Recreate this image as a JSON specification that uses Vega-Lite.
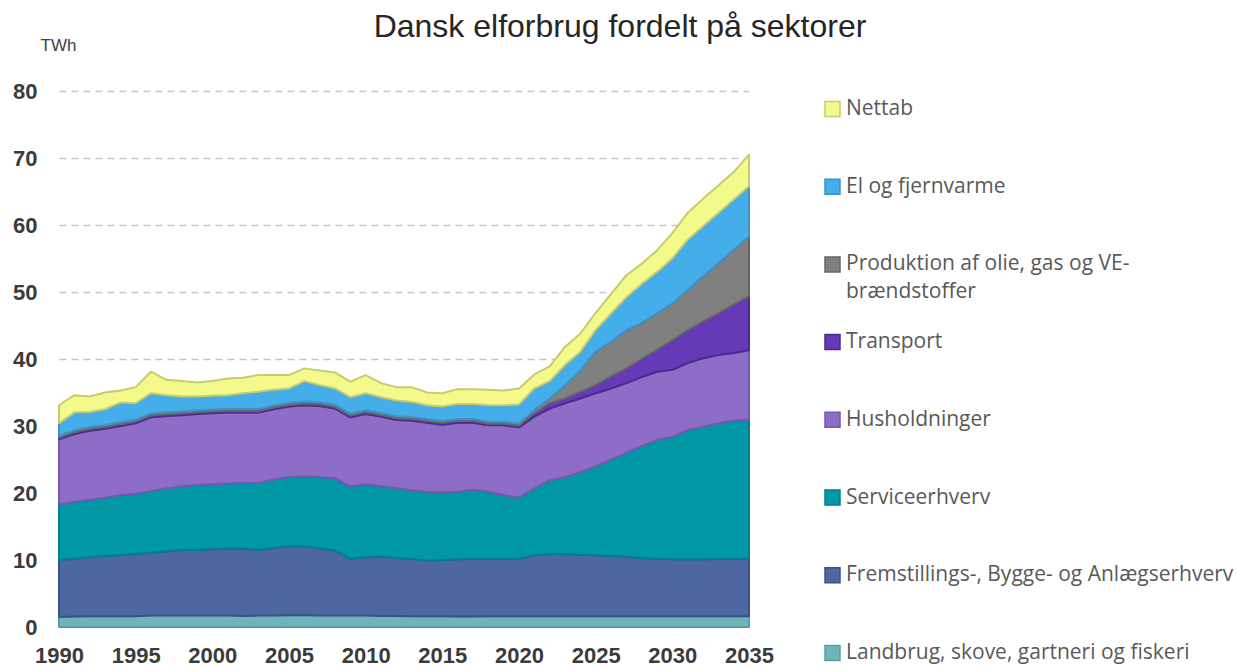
{
  "$schema": "https://vega.github.io/schema/vega-lite/v6.json",
  "width": 690,
  "height": 536,
  "autosize": {"type": "none"},
  "padding": {"left": 59, "top": 91, "right": 487, "bottom": 39},
  "background": "white",
  "title": {
    "text": "Dansk elforbrug fordelt på sektorer",
    "font": "Liberation Sans",
    "fontSize": 32,
    "fontWeight": "normal",
    "color": "#262626",
    "anchor": "middle",
    "frame": "group",
    "dx": 216,
    "dy": 34,
    "offset": 1,
    "baseline": "alphabetic"
  },
  "datasets": {
    "orden": [
      {"sektor": "Landbrug, skove, gartneri og fiskeri", "orden": 1},
      {"sektor": "Fremstillings-, Bygge- og Anlægserhverv", "orden": 2},
      {"sektor": "Serviceerhverv", "orden": 3},
      {"sektor": "Husholdninger", "orden": 4},
      {"sektor": "Transport", "orden": 5},
      {"sektor": "Produktion af olie, gas og VE-brændstoffer", "orden": 6},
      {"sektor": "El og fjernvarme", "orden": 7},
      {"sektor": "Nettab", "orden": 8}
    ]
  },
  "data": {
    "values": [
      {"year": 1990, "Landbrug, skove, gartneri og fiskeri": 1.5, "Fremstillings-, Bygge- og Anlægserhverv": 8.5, "Serviceerhverv": 8.3, "Husholdninger": 9.7, "Transport": 0.25, "Produktion af olie, gas og VE-brændstoffer": 0.3, "El og fjernvarme": 1.85, "Nettab": 2.7},
      {"year": 1991, "Landbrug, skove, gartneri og fiskeri": 1.55, "Fremstillings-, Bygge- og Anlægserhverv": 8.65, "Serviceerhverv": 8.5, "Husholdninger": 10.1, "Transport": 0.25, "Produktion af olie, gas og VE-brændstoffer": 0.3, "El og fjernvarme": 2.65, "Nettab": 2.6},
      {"year": 1992, "Landbrug, skove, gartneri og fiskeri": 1.6, "Fremstillings-, Bygge- og Anlægserhverv": 8.8, "Serviceerhverv": 8.6, "Husholdninger": 10.3, "Transport": 0.25, "Produktion af olie, gas og VE-brændstoffer": 0.3, "El og fjernvarme": 2.25, "Nettab": 2.3},
      {"year": 1993, "Landbrug, skove, gartneri og fiskeri": 1.6, "Fremstillings-, Bygge- og Anlægserhverv": 9.0, "Serviceerhverv": 8.7, "Husholdninger": 10.3, "Transport": 0.25, "Produktion af olie, gas og VE-brændstoffer": 0.3, "El og fjernvarme": 2.35, "Nettab": 2.5},
      {"year": 1994, "Landbrug, skove, gartneri og fiskeri": 1.6, "Fremstillings-, Bygge- og Anlægserhverv": 9.1, "Serviceerhverv": 9.0, "Husholdninger": 10.3, "Transport": 0.25, "Produktion af olie, gas og VE-brændstoffer": 0.3, "El og fjernvarme": 2.95, "Nettab": 1.8},
      {"year": 1995, "Landbrug, skove, gartneri og fiskeri": 1.6, "Fremstillings-, Bygge- og Anlægserhverv": 9.3, "Serviceerhverv": 9.0, "Husholdninger": 10.5, "Transport": 0.25, "Produktion af olie, gas og VE-brændstoffer": 0.3, "El og fjernvarme": 2.45, "Nettab": 2.4},
      {"year": 1996, "Landbrug, skove, gartneri og fiskeri": 1.7, "Fremstillings-, Bygge- og Anlægserhverv": 9.4, "Serviceerhverv": 9.2, "Husholdninger": 11.0, "Transport": 0.25, "Produktion af olie, gas og VE-brændstoffer": 0.3, "El og fjernvarme": 3.05, "Nettab": 3.2},
      {"year": 1997, "Landbrug, skove, gartneri og fiskeri": 1.7, "Fremstillings-, Bygge- og Anlægserhverv": 9.6, "Serviceerhverv": 9.4, "Husholdninger": 10.8, "Transport": 0.25, "Produktion af olie, gas og VE-brændstoffer": 0.3, "El og fjernvarme": 2.55, "Nettab": 2.3},
      {"year": 1998, "Landbrug, skove, gartneri og fiskeri": 1.7, "Fremstillings-, Bygge- og Anlægserhverv": 9.8, "Serviceerhverv": 9.5, "Husholdninger": 10.6, "Transport": 0.25, "Produktion af olie, gas og VE-brændstoffer": 0.3, "El og fjernvarme": 2.25, "Nettab": 2.3},
      {"year": 1999, "Landbrug, skove, gartneri og fiskeri": 1.7, "Fremstillings-, Bygge- og Anlægserhverv": 9.8, "Serviceerhverv": 9.7, "Husholdninger": 10.6, "Transport": 0.25, "Produktion af olie, gas og VE-brændstoffer": 0.3, "El og fjernvarme": 2.05, "Nettab": 2.1},
      {"year": 2000, "Landbrug, skove, gartneri og fiskeri": 1.7, "Fremstillings-, Bygge- og Anlægserhverv": 9.9, "Serviceerhverv": 9.7, "Husholdninger": 10.6, "Transport": 0.25, "Produktion af olie, gas og VE-brændstoffer": 0.3, "El og fjernvarme": 2.05, "Nettab": 2.2},
      {"year": 2001, "Landbrug, skove, gartneri og fiskeri": 1.7, "Fremstillings-, Bygge- og Anlægserhverv": 10.0, "Serviceerhverv": 9.7, "Husholdninger": 10.6, "Transport": 0.25, "Produktion af olie, gas og VE-brændstoffer": 0.3, "El og fjernvarme": 2.05, "Nettab": 2.5},
      {"year": 2002, "Landbrug, skove, gartneri og fiskeri": 1.65, "Fremstillings-, Bygge- og Anlægserhverv": 10.05, "Serviceerhverv": 9.8, "Husholdninger": 10.5, "Transport": 0.25, "Produktion af olie, gas og VE-brændstoffer": 0.3, "El og fjernvarme": 2.35, "Nettab": 2.3},
      {"year": 2003, "Landbrug, skove, gartneri og fiskeri": 1.7, "Fremstillings-, Bygge- og Anlægserhverv": 9.8, "Serviceerhverv": 10.0, "Husholdninger": 10.5, "Transport": 0.25, "Produktion af olie, gas og VE-brændstoffer": 0.3, "El og fjernvarme": 2.55, "Nettab": 2.5},
      {"year": 2004, "Landbrug, skove, gartneri og fiskeri": 1.7, "Fremstillings-, Bygge- og Anlægserhverv": 10.1, "Serviceerhverv": 10.2, "Husholdninger": 10.5, "Transport": 0.25, "Produktion af olie, gas og VE-brændstoffer": 0.3, "El og fjernvarme": 2.35, "Nettab": 2.2},
      {"year": 2005, "Landbrug, skove, gartneri og fiskeri": 1.75, "Fremstillings-, Bygge- og Anlægserhverv": 10.35, "Serviceerhverv": 10.3, "Husholdninger": 10.5, "Transport": 0.25, "Produktion af olie, gas og VE-brændstoffer": 0.3, "El og fjernvarme": 2.15, "Nettab": 2.0},
      {"year": 2006, "Landbrug, skove, gartneri og fiskeri": 1.75, "Fremstillings-, Bygge- og Anlægserhverv": 10.25, "Serviceerhverv": 10.5, "Husholdninger": 10.6, "Transport": 0.25, "Produktion af olie, gas og VE-brændstoffer": 0.3, "El og fjernvarme": 3.05, "Nettab": 1.9},
      {"year": 2007, "Landbrug, skove, gartneri og fiskeri": 1.7, "Fremstillings-, Bygge- og Anlægserhverv": 10.0, "Serviceerhverv": 10.7, "Husholdninger": 10.6, "Transport": 0.25, "Produktion af olie, gas og VE-brændstoffer": 0.3, "El og fjernvarme": 2.55, "Nettab": 2.2},
      {"year": 2008, "Landbrug, skove, gartneri og fiskeri": 1.7, "Fremstillings-, Bygge- og Anlægserhverv": 9.7, "Serviceerhverv": 10.8, "Husholdninger": 10.4, "Transport": 0.25, "Produktion af olie, gas og VE-brændstoffer": 0.3, "El og fjernvarme": 2.45, "Nettab": 2.4},
      {"year": 2009, "Landbrug, skove, gartneri og fiskeri": 1.7, "Fremstillings-, Bygge- og Anlægserhverv": 8.5, "Serviceerhverv": 10.8, "Husholdninger": 10.3, "Transport": 0.25, "Produktion af olie, gas og VE-brændstoffer": 0.3, "El og fjernvarme": 2.45, "Nettab": 2.3},
      {"year": 2010, "Landbrug, skove, gartneri og fiskeri": 1.7, "Fremstillings-, Bygge- og Anlægserhverv": 8.7, "Serviceerhverv": 10.9, "Husholdninger": 10.5, "Transport": 0.25, "Produktion af olie, gas og VE-brændstoffer": 0.3, "El og fjernvarme": 2.55, "Nettab": 2.7},
      {"year": 2011, "Landbrug, skove, gartneri og fiskeri": 1.65, "Fremstillings-, Bygge- og Anlægserhverv": 8.85, "Serviceerhverv": 10.5, "Husholdninger": 10.4, "Transport": 0.25, "Produktion af olie, gas og VE-brændstoffer": 0.3, "El og fjernvarme": 2.35, "Nettab": 2.1},
      {"year": 2012, "Landbrug, skove, gartneri og fiskeri": 1.65, "Fremstillings-, Bygge- og Anlægserhverv": 8.65, "Serviceerhverv": 10.4, "Husholdninger": 10.2, "Transport": 0.25, "Produktion af olie, gas og VE-brændstoffer": 0.3, "El og fjernvarme": 2.35, "Nettab": 2.0},
      {"year": 2013, "Landbrug, skove, gartneri og fiskeri": 1.6, "Fremstillings-, Bygge- og Anlægserhverv": 8.6, "Serviceerhverv": 10.2, "Husholdninger": 10.4, "Transport": 0.25, "Produktion af olie, gas og VE-brændstoffer": 0.3, "El og fjernvarme": 2.25, "Nettab": 2.2},
      {"year": 2014, "Landbrug, skove, gartneri og fiskeri": 1.6, "Fremstillings-, Bygge- og Anlægserhverv": 8.3, "Serviceerhverv": 10.3, "Husholdninger": 10.3, "Transport": 0.25, "Produktion af olie, gas og VE-brændstoffer": 0.3, "El og fjernvarme": 2.05, "Nettab": 1.9},
      {"year": 2015, "Landbrug, skove, gartneri og fiskeri": 1.6, "Fremstillings-, Bygge- og Anlægserhverv": 8.4, "Serviceerhverv": 10.1, "Husholdninger": 10.1, "Transport": 0.25, "Produktion af olie, gas og VE-brændstoffer": 0.3, "El og fjernvarme": 2.15, "Nettab": 2.0},
      {"year": 2016, "Landbrug, skove, gartneri og fiskeri": 1.55, "Fremstillings-, Bygge- og Anlægserhverv": 8.55, "Serviceerhverv": 10.1, "Husholdninger": 10.3, "Transport": 0.25, "Produktion af olie, gas og VE-brændstoffer": 0.3, "El og fjernvarme": 2.25, "Nettab": 2.2},
      {"year": 2017, "Landbrug, skove, gartneri og fiskeri": 1.55, "Fremstillings-, Bygge- og Anlægserhverv": 8.65, "Serviceerhverv": 10.3, "Husholdninger": 10.0, "Transport": 0.25, "Produktion af olie, gas og VE-brændstoffer": 0.3, "El og fjernvarme": 2.25, "Nettab": 2.2},
      {"year": 2018, "Landbrug, skove, gartneri og fiskeri": 1.6, "Fremstillings-, Bygge- og Anlægserhverv": 8.6, "Serviceerhverv": 10.0, "Husholdninger": 9.9, "Transport": 0.25, "Produktion af olie, gas og VE-brændstoffer": 0.3, "El og fjernvarme": 2.45, "Nettab": 2.3},
      {"year": 2019, "Landbrug, skove, gartneri og fiskeri": 1.6, "Fremstillings-, Bygge- og Anlægserhverv": 8.6, "Serviceerhverv": 9.5, "Husholdninger": 10.4, "Transport": 0.25, "Produktion af olie, gas og VE-brændstoffer": 0.3, "El og fjernvarme": 2.45, "Nettab": 2.2},
      {"year": 2020, "Landbrug, skove, gartneri og fiskeri": 1.6, "Fremstillings-, Bygge- og Anlægserhverv": 8.6, "Serviceerhverv": 9.1, "Husholdninger": 10.5, "Transport": 0.25, "Produktion af olie, gas og VE-brændstoffer": 0.3, "El og fjernvarme": 2.85, "Nettab": 2.4},
      {"year": 2021, "Landbrug, skove, gartneri og fiskeri": 1.6, "Fremstillings-, Bygge- og Anlægserhverv": 9.1, "Serviceerhverv": 10.0, "Husholdninger": 10.7, "Transport": 0.5, "Produktion af olie, gas og VE-brændstoffer": 0.5, "El og fjernvarme": 3.2, "Nettab": 2.1},
      {"year": 2022, "Landbrug, skove, gartneri og fiskeri": 1.6, "Fremstillings-, Bygge- og Anlægserhverv": 9.3, "Serviceerhverv": 11.0, "Husholdninger": 10.7, "Transport": 0.8, "Produktion af olie, gas og VE-brændstoffer": 0.7, "El og fjernvarme": 2.6, "Nettab": 2.2},
      {"year": 2023, "Landbrug, skove, gartneri og fiskeri": 1.6, "Fremstillings-, Bygge- og Anlægserhverv": 9.3, "Serviceerhverv": 11.5, "Husholdninger": 11.0, "Transport": 0.7, "Produktion af olie, gas og VE-brændstoffer": 2.0, "El og fjernvarme": 3.0, "Nettab": 2.7},
      {"year": 2024, "Landbrug, skove, gartneri og fiskeri": 1.6, "Fremstillings-, Bygge- og Anlægserhverv": 9.2, "Serviceerhverv": 12.3, "Husholdninger": 11.0, "Transport": 1.0, "Produktion af olie, gas og VE-brændstoffer": 3.2, "El og fjernvarme": 2.8, "Nettab": 2.7},
      {"year": 2025, "Landbrug, skove, gartneri og fiskeri": 1.6, "Fremstillings-, Bygge- og Anlægserhverv": 9.1, "Serviceerhverv": 13.3, "Husholdninger": 10.9, "Transport": 1.2, "Produktion af olie, gas og VE-brændstoffer": 5.0, "El og fjernvarme": 3.2, "Nettab": 2.6},
      {"year": 2026, "Landbrug, skove, gartneri og fiskeri": 1.6, "Fremstillings-, Bygge- og Anlægserhverv": 9.0, "Serviceerhverv": 14.4, "Husholdninger": 10.6, "Transport": 1.8, "Produktion af olie, gas og VE-brændstoffer": 5.2, "El og fjernvarme": 4.2, "Nettab": 2.9},
      {"year": 2027, "Landbrug, skove, gartneri og fiskeri": 1.6, "Fremstillings-, Bygge- og Anlægserhverv": 8.9, "Serviceerhverv": 15.5, "Husholdninger": 10.4, "Transport": 2.2, "Produktion af olie, gas og VE-brændstoffer": 5.7, "El og fjernvarme": 4.9, "Nettab": 3.3},
      {"year": 2028, "Landbrug, skove, gartneri og fiskeri": 1.6, "Fremstillings-, Bygge- og Anlægserhverv": 8.7, "Serviceerhverv": 16.7, "Husholdninger": 10.3, "Transport": 2.7, "Produktion af olie, gas og VE-brændstoffer": 5.4, "El og fjernvarme": 5.8, "Nettab": 3.0},
      {"year": 2029, "Landbrug, skove, gartneri og fiskeri": 1.6, "Fremstillings-, Bygge- og Anlægserhverv": 8.6, "Serviceerhverv": 17.7, "Husholdninger": 10.2, "Transport": 3.3, "Produktion af olie, gas og VE-brændstoffer": 5.4, "El og fjernvarme": 6.2, "Nettab": 3.2},
      {"year": 2030, "Landbrug, skove, gartneri og fiskeri": 1.6, "Fremstillings-, Bygge- og Anlægserhverv": 8.5, "Serviceerhverv": 18.3, "Husholdninger": 10.0, "Transport": 4.4, "Produktion af olie, gas og VE-brændstoffer": 5.5, "El og fjernvarme": 6.7, "Nettab": 3.8},
      {"year": 2031, "Landbrug, skove, gartneri og fiskeri": 1.6, "Fremstillings-, Bygge- og Anlægserhverv": 8.5, "Serviceerhverv": 19.3, "Husholdninger": 10.0, "Transport": 4.9, "Produktion af olie, gas og VE-brændstoffer": 6.0, "El og fjernvarme": 7.5, "Nettab": 4.0},
      {"year": 2032, "Landbrug, skove, gartneri og fiskeri": 1.6, "Fremstillings-, Bygge- og Anlægserhverv": 8.5, "Serviceerhverv": 19.8, "Husholdninger": 10.2, "Transport": 5.5, "Produktion af olie, gas og VE-brændstoffer": 6.7, "El og fjernvarme": 7.5, "Nettab": 4.1},
      {"year": 2033, "Landbrug, skove, gartneri og fiskeri": 1.6, "Fremstillings-, Bygge- og Anlægserhverv": 8.55, "Serviceerhverv": 20.25, "Husholdninger": 10.2, "Transport": 6.2, "Produktion af olie, gas og VE-brændstoffer": 7.5, "El og fjernvarme": 7.5, "Nettab": 4.1},
      {"year": 2034, "Landbrug, skove, gartneri og fiskeri": 1.6, "Fremstillings-, Bygge- og Anlægserhverv": 8.6, "Serviceerhverv": 20.6, "Husholdninger": 10.1, "Transport": 7.2, "Produktion af olie, gas og VE-brændstoffer": 8.2, "El og fjernvarme": 7.5, "Nettab": 4.1},
      {"year": 2035, "Landbrug, skove, gartneri og fiskeri": 1.6, "Fremstillings-, Bygge- og Anlægserhverv": 8.6, "Serviceerhverv": 20.8, "Husholdninger": 10.3, "Transport": 8.1, "Produktion af olie, gas og VE-brændstoffer": 8.9, "El og fjernvarme": 7.5, "Nettab": 4.7}
    ]
  },
  "transform": [
    {"fold": ["Landbrug, skove, gartneri og fiskeri", "Fremstillings-, Bygge- og Anlægserhverv", "Serviceerhverv", "Husholdninger", "Transport", "Produktion af olie, gas og VE-brændstoffer", "El og fjernvarme", "Nettab"], "as": ["sektor", "twh"]},
    {"lookup": "sektor", "from": {"data": {"name": "orden"}, "key": "sektor", "fields": ["orden"]}}
  ],
  "mark": {"type": "area", "strokeWidth": 2, "opacity": 1, "fillOpacity": 1, "strokeJoin": "round"},
  "encoding": {
    "x": {
      "field": "year", "type": "quantitative",
      "scale": {"domain": [1990, 2035], "nice": false, "zero": false},
      "axis": {
        "values": [1990, 1995, 2000, 2005, 2010, 2015, 2020, 2025, 2030, 2035],
        "format": "d", "title": null, "ticks": false, "grid": false,
        "labelFont": "Liberation Sans", "labelFontSize": 22, "labelFontWeight": "bold",
        "labelColor": "#3b3b3b", "labelPadding": 18,
        "domainColor": "#d0d0d0", "domainWidth": 1.5,
        "labelFlush": false, "labelOverlap": false
      }
    },
    "y": {
      "field": "twh", "type": "quantitative", "stack": "zero",
      "scale": {"domain": [0, 80], "nice": false},
      "axis": {
        "values": [0, 10, 20, 30, 40, 50, 60, 70, 80],
        "title": "TWh", "titleAngle": 0, "titleAlign": "left", "titleBaseline": "alphabetic",
        "titleX": -19, "titleY": -41, "titleFont": "Liberation Sans", "titleFontSize": 17,
        "titleFontWeight": "normal", "titleColor": "#404040",
        "domain": false, "ticks": false, "grid": true,
        "gridDash": [7, 5], "gridColor": "#c6c6c6", "gridWidth": 1.3,
        "gridOpacity": {"condition": {"test": "datum.value === 0", "value": 0}, "value": 1},
        "labelFont": "Liberation Sans", "labelFontSize": 22, "labelFontWeight": "bold",
        "labelColor": "#3b3b3b", "labelPadding": 22
      }
    },
    "fill": {
      "field": "sektor", "type": "nominal",
      "scale": {
        "domain": ["Nettab", "El og fjernvarme", "Produktion af olie, gas og VE-brændstoffer", "Transport", "Husholdninger", "Serviceerhverv", "Fremstillings-, Bygge- og Anlægserhverv", "Landbrug, skove, gartneri og fiskeri"],
        "range": ["#f3f98a", "#45aeea", "#808080", "#6639b7", "#8e6dc8", "#0098a7", "#4e66a1", "#6db5ba"]
      },
      "legend": {
        "title": null, "orient": "none", "legendX": 763, "legendY": 7.5,
        "symbolType": "square", "symbolSize": 225, "symbolStrokeWidth": 1.5,
        "labelFont": "Open Sans", "labelFontSize": 21, "labelColor": "#595959",
        "labelOffset": 3, "rowPadding": 27.7, "labelLimit": 600, "padding": 0,
        "labelExpr": "datum.label == 'Produktion af olie, gas og VE-brændstoffer' ? ['Produktion af olie, gas og VE-', 'brændstoffer'] : [datum.label, '']"
      }
    },
    "stroke": {
      "field": "sektor", "type": "nominal",
      "scale": {
        "domain": ["Nettab", "El og fjernvarme", "Produktion af olie, gas og VE-brændstoffer", "Transport", "Husholdninger", "Serviceerhverv", "Fremstillings-, Bygge- og Anlægserhverv", "Landbrug, skove, gartneri og fiskeri"],
        "range": ["#c8cb6c", "#3b94c9", "#666666", "#4b2a92", "#7758ac", "#007f8c", "#3e5186", "#5a9ea3"]
      },
      "legend": {
        "title": null, "orient": "none", "legendX": 763, "legendY": 7.5,
        "symbolType": "square", "symbolSize": 225, "symbolStrokeWidth": 1.5,
        "labelFont": "Open Sans", "labelFontSize": 21, "labelColor": "#595959",
        "labelOffset": 3, "rowPadding": 27.7, "labelLimit": 600, "padding": 0,
        "labelExpr": "datum.label == 'Produktion af olie, gas og VE-brændstoffer' ? ['Produktion af olie, gas og VE-', 'brændstoffer'] : [datum.label, '']"
      }
    },
    "order": {"field": "orden", "type": "quantitative"}
  },
  "config": {
    "view": {"stroke": null},
    "style": {"guide-label": {"lineHeight": 28}}
  }
}
